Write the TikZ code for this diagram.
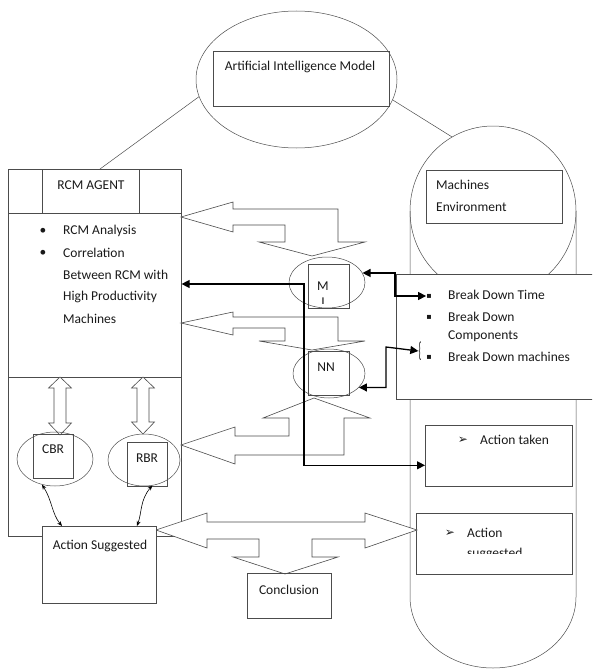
\documentclass[tikz,border=0pt]{standalone}
\usepackage{fontspec}
\setmainfont{Carlito}
\newfontfamily\dejavu{DejaVu Sans}
\usepackage{tikz}
\usetikzlibrary{arrows.meta}
\usetikzlibrary{shapes.geometric}
\colorlet{lgray}{black!70}
\colorlet{tcol}{black!90}
\newcommand\arrbul{{\dejavu\fontsize{12}{12}\selectfont ➢}}
\newcommand\sqbul{{\dejavu\fontsize{8}{8}\selectfont ▪}}
\newcommand\vdblarrow[3]{% x, top tip, bottom tip
  \draw[blk] (#1,#2) -- ++(11.5,11) -- ++(-5.5,0) -- (#1+6,#3-12) -- ++(5.5,0)
    -- (#1,#3) -- ++(-11.5,-12) -- ++(5.5,0) -- (#1-6,#2+11) -- ++(-5.5,0) -- cycle;}
\tikzstyle{box}=[draw=lgray,line width=.6pt,inner sep=0pt]
\tikzstyle{oval}=[ellipse,draw=lgray,line width=.5pt,inner sep=0pt]
\tikzstyle{txt}=[inner sep=0pt,text=tcol,font=\fontsize{13.5}{16}\selectfont]
\tikzstyle{blk}=[draw=lgray,line width=.6pt,fill=white]
\tikzstyle{conn}=[line width=1.3pt,>/.tip={Triangle[length=8pt,width=8pt]}]
\tikzstyle{wig}=[line width=.6pt,>/.tip={Stealth[length=5pt,width=4pt]},<->]

\begin{document}
\begin{tikzpicture}[x=1pt,y=-1pt]
	\useasboundingbox (0,0) rectangle (592,669);
	\clip (0,0) rectangle (592,669);
	% AI model
	\node[oval,minimum width=201pt,minimum height=137pt] (aiell) at (296.5,79.5) {};
	\node[box,minimum width=176pt,minimum height=55pt] (ai) at (301,78.5) {};
	\node[txt] (aitxt) at (300,67) {Artificial Intelligence Model};
	% machines environment
	\draw[lgray,line width=.5pt] (410,211) -- (410,597) .. controls (410,636) and (447,668) .. (493,668)
		.. controls (539,668) and (576,636) .. (576,597) -- (576,211);
	\node[oval,minimum width=166pt,minimum height=170pt] (envell) at (493,211) {};
	\node[box,minimum width=136pt,minimum height=53pt] (env) at (494,196.5) {};
	\node[txt,anchor=west] (envtxt1) at (436,185) {Machines};
	\node[txt,anchor=west] (envtxt2) at (436,207) {Environment};
	\node[box,fill=white,minimum width=210pt,minimum height=125pt,anchor=north west] (bd) at (396,274) {};
	\node[txt] (sq1) at (429,296) {\sqbul};
	\node[txt,anchor=west] (bdtime) at (448,295) {Break Down Time};
	\node[txt] (sq2) at (429,317) {\sqbul};
	\node[txt,anchor=west] (bdcomp1) at (448,317) {Break Down};
	\node[txt,anchor=west] (bdcomp2) at (448,336) {Components};
	\node[txt] (sq3) at (429,357) {\sqbul};
	\node[txt,anchor=west] (bdmach) at (448,357) {Break Down machines};
	\node[txt] (brc) at (420,351) {\scalebox{0.7}[1.6]{\{}};
	\node[box,minimum width=147pt,minimum height=61pt,anchor=north west] (taken) at (425,425) {};
	\node[txt] (tkbul) at (463,440) {\arrbul};
	\node[txt,anchor=west] (tktxt) at (480,440) {Action taken};
	\node[box,minimum width=156pt,minimum height=61pt,anchor=north west] (sugg2) at (416,513) {};
	\node[txt] (sgbul) at (450,533) {\arrbul};
	\node[txt,anchor=west] (sgtxt1) at (467,533) {Action};
	\begin{scope}
		\clip (416,540) rectangle (572,553);
		\node[txt,anchor=base west] (sgtxt2) at (467,557) {suggested};
	\end{scope}
	% RCM agent
	\node[box,minimum width=173pt,minimum height=367pt,anchor=north west] (rcm) at (8,169) {};
	\draw[lgray,line width=.6pt] (rcm.west |- 0,213) -- (rcm.east |- 0,213);
	\draw[lgray,line width=.6pt] (rcm.west |- 0,377) -- (rcm.east |- 0,377);
	\draw[lgray,line width=.6pt] ([xshift=34pt]rcm.north west) -- ++(0,44);
	\draw[lgray,line width=.6pt] ([xshift=131pt]rcm.north west) -- ++(0,44);
	\node[txt] (rcmtxt) at (91,185) {RCM AGENT};
	\node[txt] (bul1) at (43,231) {\textbullet};
	\node[txt,anchor=west] (rcman) at (63,231) {RCM Analysis};
	\node[txt] (bul2) at (43,253) {\textbullet};
	\node[txt,anchor=west] (corr1) at (63,253) {Correlation};
	\node[txt,anchor=west] (corr2) at (63,275) {Between RCM with};
	\node[txt,anchor=west] (corr3) at (63,297) {High Productivity};
	\node[txt,anchor=west] (corr4) at (63,319) {Machines};
	\vdblarrow{60}{377}{435}
	\vdblarrow{143}{377}{434}
	\node[oval,minimum width=76pt,minimum height=54pt] (cbrell) at (55,459) {};
	\node[box,minimum width=40pt,minimum height=44pt] (cbr) at (53,456) {};
	\node[txt] (cbrtxt) at (53,449) {CBR};
	\node[oval,minimum width=72pt,minimum height=52pt] (rbrell) at (144,460) {};
	\node[box,minimum width=40pt,minimum height=44pt] (rbr) at (147,464) {};
	\node[txt] (rbrtxt) at (147,458) {RBR};
	% links to the AI model
	\draw[lgray,line width=.5pt] (aiell.190) -- (rcm.north -| 100,0);
	\draw[lgray,line width=.5pt] (aiell.-12) -- (envell.119);
	% block arrows
	\draw[blk] (181,217) -- (233,202) -- (233,209) -- (338,209) -- (338,242) -- (365,242) -- (312,256)
		-- (259,242) -- (285,242) -- (285,225) -- (233,225) -- (233,232) -- cycle;
	\draw[blk] (181,323) -- (233,312) -- (233,317) -- (338,317) -- (338,341) -- (365,341) -- (312,350)
		-- (259,341) -- (285,341) -- (285,328) -- (233,328) -- (233,335) -- cycle;
	\draw[blk] (181,445) -- (235,427) -- (235,436) -- (289,436) -- (289,418) -- (263,418) -- (314,398)
		-- (370,418) -- (344,418) -- (344,455) -- (235,455) -- (235,464) -- cycle;
	\draw[blk] (156,530) -- (207,513) -- (207,522) -- (365,522) -- (365,513) -- (417,530) -- (365,548)
		-- (365,539) -- (312,539) -- (312,557) -- (338,557) -- (285,574) -- (233,557) -- (259,557)
		-- (259,539) -- (207,539) -- (207,548) -- cycle;
	% outcome boxes
	\node[box,fill=white,minimum width=114pt,minimum height=77pt,anchor=north west] (sugg) at (42,526) {};
	\node[txt] (suggtxt) at (100,546) {Action Suggested};
	\node[box,minimum width=84pt,minimum height=45pt,anchor=north west] (concl) at (247,573) {};
	\node[txt] (concltxt) at (289,590) {Conclusion};
	% M and NN
	\node[oval,minimum width=76pt,minimum height=51pt] (mell) at (327,282.5) {};
	\node[box,minimum width=41pt,minimum height=44pt] (m) at (328.5,286) {};
	\node[txt] (mtxt) at (323,286) {M};
	\begin{scope}
		\clip (308,264) rectangle (349,303);
		\node[txt,anchor=base] (mtxt2) at (323,306) {I};
	\end{scope}
	\node[oval,minimum width=72pt,minimum height=49pt] (nnell) at (329,373.5) {};
	\node[box,minimum width=41pt,minimum height=44pt] (nn) at (328.5,373) {};
	\node[txt] (nntxt) at (326,367) {NN};
	% connectors
	\coordinate (jn) at (304,284);
	\draw[conn,<->] (rcm.east |- jn) -- (jn) |- ([yshift=-9.5pt]taken.west);
	\draw[conn,<->] (mell.15) -| (395,296) -- (sq1.west);
	\draw[conn,<->] (nnell.-25) -| (386,347) -- (brc.west);
	\draw[wig] (cbrell.243) .. controls (52,500) and (52,514) .. ([xshift=20pt]sugg.north west);
	\draw[wig] (rbrell.-72) .. controls (140,500) and (142,512) .. ([xshift=95pt]sugg.north west);
\end{tikzpicture}
\end{document}
